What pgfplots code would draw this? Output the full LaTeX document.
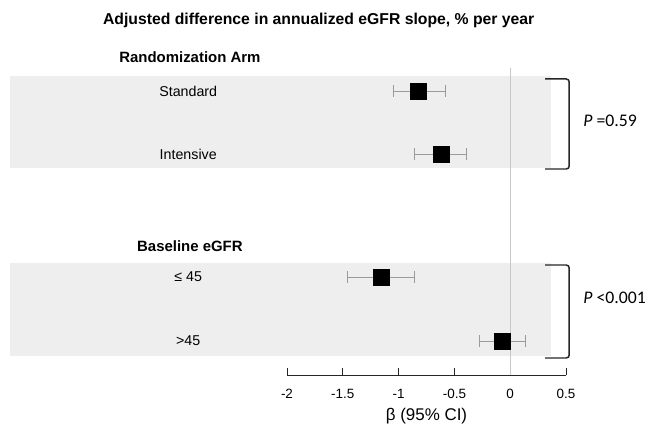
\documentclass[border=0pt]{standalone}
\usepackage{pgfplots}
\pgfplotsset{compat=1.18}
\usepackage{pgfplotstable}
\usepackage{fontspec}
\setmainfont{Liberation Sans}
\newfontfamily\calib{Carlito}
\definecolor{band}{HTML}{EEEEEE}
\definecolor{zline}{HTML}{C8C8C8}
\definecolor{ebar}{HTML}{9A9A9A}

\pgfplotstableread{
x y em ep
-0.82 333 0.23 0.24
-0.62 270 0.24 0.23
-1.16 147 0.30 0.30
-0.07 83 0.21 0.21
}\forest

\begin{document}
\begin{tikzpicture}
\useasboundingbox (-287bp,-49bp) rectangle (359bp,375bp);
\begin{axis}[
  at={(0,0)}, anchor=south west,
  scale only axis, width=279bp, height=375bp,
  xmin=-2, xmax=0.5, ymin=49, ymax=424,
  axis x line*=bottom, axis y line=none,
  xtick={-2,-1.5,-1,-0.5,0,0.5},
  tick align=inside, major tick length=7bp,
  xticklabel style={font=\fontsize{13.5}{16}\selectfont, yshift=-11bp},
  /pgf/number format/assume math mode=true,
  xlabel={β (95\% CI)},
  xlabel style={font=\fontsize{17}{19}\selectfont, yshift=-2bp},
  clip=false,
  axis line style={black!85, line width=0.9pt},
  tick style={black!85, line width=0.9pt},
]
\fill[band] (-4.48,256) rectangle (0.367,348);
\fill[band] (-4.48,68) rectangle (0.367,161);
\draw[zline, line width=0.8pt] (0,356) -- (0,49);

\addplot[only marks, mark=square*, mark size=8bp,
  mark options={fill=black, draw=black},
  error bars/.cd, x dir=both, x explicit,
  error bar style={color=ebar, line width=0.8pt},
  error mark options={color=ebar, line width=0.8pt, mark size=6bp, rotate=90}]
  table[x=x, y=y, x error minus=em, x error plus=ep]{\forest};

\node[font=\bfseries\fontsize{15.8}{18}\selectfont] at (-1.716,404) {Adjusted difference in annualized eGFR slope, \% per year};
\node[font=\bfseries\fontsize{15}{17}\selectfont] at (-2.87,367) {Randomization Arm};
\node[font=\bfseries\fontsize{15}{17}\selectfont] at (-2.87,178) {Baseline eGFR};
\node[font=\fontsize{14.3}{16}\selectfont] at (-2.885,333) {Standard};
\node[font=\fontsize{14.3}{16}\selectfont] at (-2.885,270) {Intensive};
\node[font=\fontsize{14.3}{16}\selectfont] at (-2.885,147) {≤ 45};
\node[font=\fontsize{14.3}{16}\selectfont] at (-2.885,83) {>45};

\draw[black!85, line width=1.5pt, rounded corners=3bp] (0.314,345) -- (0.529,345) -- (0.529,255) -- (0.314,255);
\draw[black!85, line width=1.5pt, rounded corners=3bp] (0.314,159) -- (0.529,159) -- (0.529,66) -- (0.314,66);

\node[anchor=west, inner sep=0pt, font=\calib\fontsize{17.8}{20}\selectfont] at (0.654,303) {\textit{P} =0.59};
\node[anchor=west, inner sep=0pt, font=\calib\fontsize{17.8}{20}\selectfont] at (0.654,126) {\textit{P} <0.001};
\end{axis}
\end{tikzpicture}
\end{document}
